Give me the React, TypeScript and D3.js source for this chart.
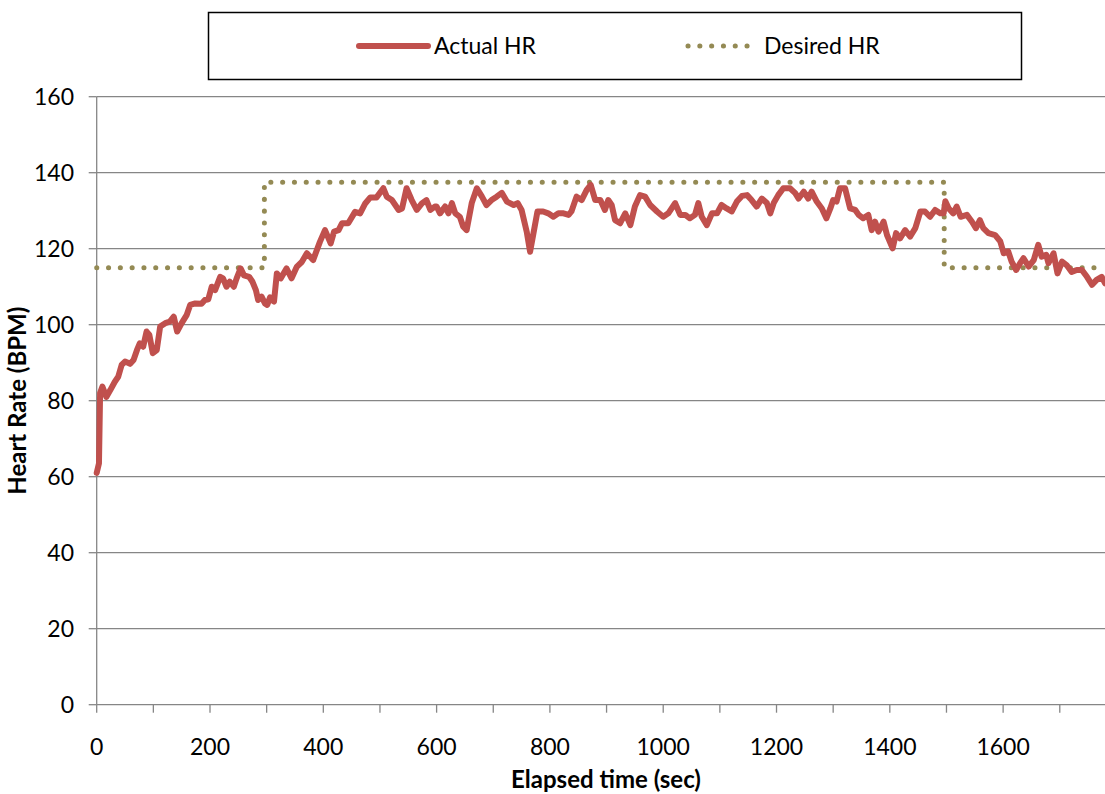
import React from "react";
import * as d3 from "d3";

const actualTime = [0,4,6,10,17,24,32,38,44,50,59,65,71,76,82,88,93,99,106,112,121,129,136,142,150,159,165,174,185,191,197,203,209,218,223,229,235,242,247,254,260,269,275,281,285,291,297,301,306,309,313,318,325,335,344,353,362,371,382,394,403,413,419,427,433,444,456,465,474,483,494,506,512,521,533,539,547,556,565,574,582,589,597,600,606,615,621,627,633,641,647,653,662,671,680,688,697,706,715,724,736,743,750,759,765,771,778,788,797,806,815,824,833,838,847,856,865,872,880,889,897,903,909,915,924,933,942,950,959,968,977,989,1000,1009,1021,1030,1039,1047,1056,1062,1068,1077,1086,1095,1103,1112,1121,1130,1139,1148,1156,1165,1174,1183,1189,1195,1203,1212,1224,1233,1239,1248,1256,1262,1271,1280,1288,1295,1300,1306,1312,1321,1330,1339,1345,1353,1362,1368,1374,1380,1389,1395,1405,1411,1418,1427,1436,1445,1454,1462,1471,1480,1489,1495,1498,1504,1512,1518,1525,1536,1545,1552,1559,1565,1574,1586,1595,1601,1609,1615,1623,1630,1636,1645,1654,1662,1668,1676,1680,1689,1696,1704,1712,1721,1730,1739,1748,1757,1765,1774,1780];
const actualHR = [61,63.5,82,83.7,81,82.8,85,86.3,89.4,90.3,89.7,90.7,93.3,95.1,94.2,98.2,97.3,92.5,93.3,99.5,100.4,100.8,102.1,98.2,100.4,102.6,105.2,105.6,105.5,106.5,106.7,110,109.1,112.6,112.2,110,111.3,110,112.2,114.8,113,112.6,111.3,109.1,106.5,107.4,105.6,105.2,107.2,106.5,106.1,113.5,112.2,114.8,112.2,115.2,116.5,118.8,117,121.8,124.9,121.4,124.5,124.9,126.7,126.7,129.7,129.3,131.9,133.5,133.5,135.9,133.7,132.8,130.2,130.6,135.9,132.8,130.2,131.9,132.8,130.2,131.1,131.1,129.3,131.1,129.3,132,129.3,128.4,125.8,124.9,132,135.9,133.7,131.5,132.8,133.7,134.7,132.4,131.5,132,130.2,124.5,119.2,124.1,129.8,129.8,129.3,128.4,129.3,129.3,128.9,129.8,133.7,132.8,135.5,136.8,132.8,132.8,130.2,132.8,131.5,127.5,126.7,129.3,126.2,131.1,134.1,133.7,131.5,129.8,128.4,129.3,132,128.9,128.9,128,128.9,132,128.4,126.2,129.3,129.3,131.5,130.6,129.8,132.4,133.9,134.1,132.8,131.1,133.2,132,129.3,132,134.1,135.9,135.9,134.6,133.2,135,133.2,135,132.4,130.6,128,130.6,132.8,132.4,135.9,135.9,130.6,130.2,128.9,128,128.9,124.9,127.1,124.5,127.1,123.6,120.1,124.1,122.7,124.9,123.2,125.4,129.8,129.8,128.4,130.2,129.3,129.3,132.5,130.6,129.3,131.1,128.4,128.9,127.1,125.4,127.5,125.4,124.1,123.6,121.9,118.8,119.3,116.6,114.4,116.2,117.5,115.3,117,121,117.9,118.4,116.2,118.8,113.5,116.6,115.7,113.9,114.4,114.4,112.6,110.5,111.8,112.6,110.9];

const desiredTime = [0, 296, 296, 1496, 1496, 1780];
const desiredHR = [115, 115, 137.5, 137.5, 115, 115];

const yTicks = [0, 20, 40, 60, 80, 100, 120, 140, 160];
const xTickMarks = [0,100,200,300,400,500,600,700,800,900,1000,1100,1200,1300,1400,1500,1600,1700];
const xTickLabels = [0, 200, 400, 600, 800, 1000, 1200, 1400, 1600];

const seriesNames = ["Actual HR", "Desired HR"];

const FONT = "Lato, 'Open Sans', sans-serif";
const RED = "#C0504D";
const OLIVE = "#948A54";
const GRID = "#868686";

export default function App() {
  const W = 1105, H = 794;
  const x = d3.scaleLinear().domain([0, 1780]).range([96.7, 1105.1]);
  const y = d3.scaleLinear().domain([0, 160]).range([704.7, 96.7]);

  const actual = actualTime.map((t, i) => [t, actualHR[i]] as [number, number]);
  const desired = desiredTime.map((t, i) => [t, desiredHR[i]] as [number, number]);
  const line = d3.line<[number, number]>().x(d => x(d[0])).y(d => y(d[1]));

  const x0 = x(0), yb = y(0);

  return (
    <svg width={W} height={H} style={{ position: "absolute", left: 0, top: 0, background: "#fff" }} fontFamily={FONT}>
      {yTicks.filter(v => v > 0).map(v => (
        <line key={"g" + v} x1={x0} x2={W} y1={y(v)} y2={y(v)} stroke={GRID} strokeWidth={1.3} />
      ))}
      <line x1={x0} x2={x0} y1={y(160)} y2={yb} stroke={GRID} strokeWidth={1.3} />
      {yTicks.map(v => (
        <g key={"yt" + v}>
          <line x1={x0 - 8} x2={x0} y1={y(v)} y2={y(v)} stroke={GRID} strokeWidth={1.3} />
          <text x={74} y={y(v)} dy="0.35em" textAnchor="end" fontSize={23} fill="#000">{v}</text>
        </g>
      ))}
      <line x1={x0} x2={W} y1={yb} y2={yb} stroke={GRID} strokeWidth={1.3} />
      {xTickMarks.map(t => (
        <line key={"xt" + t} x1={x(t)} x2={x(t)} y1={yb} y2={yb + 8} stroke={GRID} strokeWidth={1.3} />
      ))}
      {xTickLabels.map(t => (
        <text key={"xl" + t} x={x(t)} y={755} textAnchor="middle" fontSize={23} fill="#000">{t}</text>
      ))}
      <text x={606} y={788} textAnchor="middle" fontSize={24} fontWeight="bold" fill="#000">Elapsed time (sec)</text>
      <text transform={`translate(26,${y(80)}) rotate(-90)`} textAnchor="middle" fontSize={24} fontWeight="bold" fill="#000">Heart Rate (BPM)</text>

      <path d={line(desired) || ""} fill="none" stroke={OLIVE} strokeWidth={5} strokeLinecap="round" strokeDasharray="0.1 11.7" />
      <path d={line(actual) || ""} fill="none" stroke={RED} strokeWidth={6} strokeLinejoin="round" strokeLinecap="round" />

      <rect x={208.5} y={12.5} width={813} height={67} fill="#fff" stroke="#000" strokeWidth={1.5} />
      <line x1={359} x2={428} y1={46} y2={46} stroke={RED} strokeWidth={6} strokeLinecap="round" />
      <text x={434} y={46} dy="0.35em" fontSize={23} fill="#000">{seriesNames[0]}</text>
      <line x1={688} x2={752} y1={46} y2={46} stroke={OLIVE} strokeWidth={5} strokeLinecap="round" strokeDasharray="0.1 11.7" />
      <text x={764} y={46} dy="0.35em" fontSize={23} fill="#000">{seriesNames[1]}</text>
    </svg>
  );
}
